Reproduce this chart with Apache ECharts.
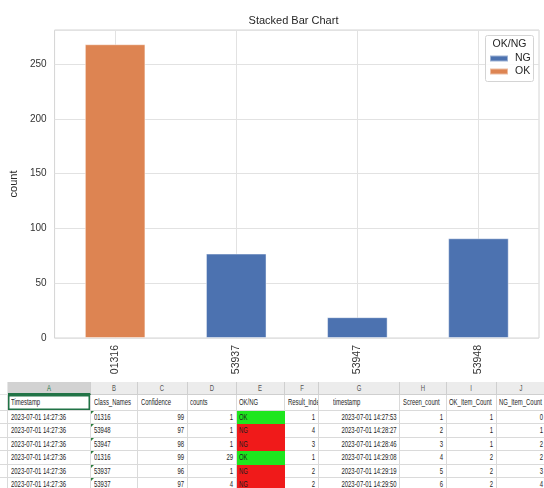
<!DOCTYPE html>
<html>
<head>
<meta charset="utf-8">
<script src="https://cdn.jsdelivr.net/npm/echarts@6/dist/echarts.min.js"></script>
<style>
html,body{margin:0;padding:0;background:#fff;}
#wrap{position:relative;width:544px;height:488px;overflow:hidden;background:#fff;}
#chart{position:absolute;left:0;top:0;width:544px;height:488px;}
#sheet{position:absolute;left:0;top:381px;width:544px;height:107px;overflow:hidden;background:#fff;font-family:'Liberation Sans',Arial,sans-serif;font-size:9px;color:#1e1e1e;}
.c{position:absolute;box-sizing:border-box;border-right:1px solid #dadada;border-bottom:1px solid #dadada;overflow:hidden;}
.t{position:absolute;top:0;white-space:nowrap;}
.tri{position:absolute;left:0;top:0;width:0;height:0;border-top:3px solid #2a7d3c;border-right:3px solid transparent;}
</style>
</head>
<body>
<div id="wrap">
  <div id="chart"></div>
  <div id="sheet"></div>
</div>
<script>
// ---------- chart data ----------
const categories = ['01316', '53937', '53947', '53948'];
const ngValues = [null, 77, 19, 91];
const okValues = [268, null, null, null];
const seriesNames = ['NG', 'OK'];
const yMax = 281;
const yInterval = 50;

// ---------- spreadsheet data ----------
const colLetters = ['A', 'B', 'C', 'D', 'E', 'F', 'G', 'H', 'I', 'J'];
const headerRow = ['Timestamp', 'Class_Names', 'Confidence', 'counts', 'OK/NG', 'Result_Index', 'timestamp', 'Screen_count', 'OK_Item_Count', 'NG_Item_Count'];
const colTimestamp = ['2023-07-01 14:27:36', '2023-07-01 14:27:36', '2023-07-01 14:27:36', '2023-07-01 14:27:36', '2023-07-01 14:27:36', '2023-07-01 14:27:36'];
const colClassNames = ['01316', '53948', '53947', '01316', '53937', '53937'];
const colConfidence = ['99', '97', '98', '99', '96', '97'];
const colCounts = ['1', '1', '1', '29', '1', '4'];
const colOkNg = ['OK', 'NG', 'NG', 'OK', 'NG', 'NG'];
const colResultIndex = ['1', '4', '3', '1', '2', '2'];
const colTimestamp2 = ['2023-07-01 14:27:53', '2023-07-01 14:28:27', '2023-07-01 14:28:46', '2023-07-01 14:29:08', '2023-07-01 14:29:19', '2023-07-01 14:29:50'];
const colScreenCount = ['1', '2', '3', '4', '5', '6'];
const colOkItem = ['1', '1', '1', '2', '2', '2'];
const colNgItem = ['0', '1', '2', '2', '3', '4'];

// ---------- chart ----------
const chart = echarts.init(document.getElementById('chart'), null, {renderer: 'canvas'});
const FONT = 'Liberation Sans, Arial, sans-serif';
const option = {
  animation: false,
  textStyle: {fontFamily: FONT},
  grid: {left: 48, right: 5, top: 30, bottom: 150, show: true, borderColor: '#d4d4d4', borderWidth: 1},
  graphic: [
    {type: 'text', x: 293.5, y: 21, z: 5,
     style: {text: 'Stacked Bar Chart', fontSize: 11, fill: '#262626', fontFamily: FONT, textAlign: 'center', textVerticalAlign: 'middle'}},
    {type: 'rect', z: 10, shape: {x: 485.5, y: 35.5, width: 48, height: 46, r: 2},
     style: {fill: 'rgba(255,255,255,0.85)', stroke: '#d4d4d4', lineWidth: 1}},
    {type: 'text', x: 509.5, y: 44.5, z: 21,
     style: {text: 'OK/NG', fontSize: 10.5, fill: '#262626', fontFamily: FONT, textAlign: 'center', textVerticalAlign: 'middle'}}
  ],
  legend: {
    orient: 'vertical', left: 489, top: 53, z: 20, padding: 0,
    itemWidth: 18, itemHeight: 6, itemGap: 2, icon: 'rect',
    textStyle: {fontSize: 10.5, color: '#262626', fontFamily: FONT, padding: [0, 0, 0, 2]},
    data: seriesNames
  },
  xAxis: {
    type: 'category', data: categories,
    name: 'Class_Names', nameLocation: 'middle', nameGap: 44,
    nameTextStyle: {fontSize: 11, color: '#262626'},
    axisLine: {show: false},
    axisTick: {show: false, alignWithLabel: true},
    axisLabel: {rotate: 90, fontSize: 10.5, color: '#333', margin: 7},
    splitLine: {show: true, alignWithLabel: true, lineStyle: {color: '#e2e2e2', width: 1}}
  },
  yAxis: {
    type: 'value', min: 0, max: yMax, interval: yInterval,
    name: 'count', nameLocation: 'middle', nameGap: 33, nameRotate: 90,
    nameTextStyle: {fontSize: 11, color: '#262626'},
    axisLine: {show: false}, axisTick: {show: false},
    axisLabel: {fontSize: 10, color: '#333', margin: 8, showMaxLabel: false},
    splitLine: {show: true, lineStyle: {color: '#e2e2e2', width: 1}}
  },
  series: [
    {name: seriesNames[0], type: 'bar', stack: 'total', barWidth: '50%', data: ngValues,
     itemStyle: {color: '#4c72b0', borderColor: 'rgba(255,255,255,0.45)', borderWidth: 1}},
    {name: seriesNames[1], type: 'bar', stack: 'total', barWidth: '50%', data: okValues,
     itemStyle: {color: '#dd8452', borderColor: 'rgba(255,255,255,0.45)', borderWidth: 1}}
  ]
};
chart.setOption(option);

// ---------- spreadsheet ----------
const sheet = document.getElementById('sheet');
const SX = 0.66;
const colX = [0, 8, 91, 138, 187.5, 236.5, 285, 319, 400, 446.5, 496.5, 547];
const align = ['l', 'l', 'r', 'r', 'l', 'r', 'r', 'r', 'r', 'r'];
const headPad = [2.5, 2.5, 2.5, 2.5, 2.5, 2.5, 14, 2.5, 2.5, 2.5];
const letterTop = 1, letterH = 13, headTop = 14, headH = 15.5, rowTop = 29.5, rowH = 13.5;
const columns = [colTimestamp, colClassNames, colConfidence, colCounts, colOkNg, colResultIndex, colTimestamp2, colScreenCount, colOkItem, colNgItem];

function cell(x, y, w, h, text, al, extra) {
  extra = extra || {};
  const d = document.createElement('div');
  d.className = 'c';
  d.style.left = x + 'px'; d.style.top = y + 'px';
  d.style.width = w + 'px'; d.style.height = h + 'px';
  if (extra.bg) { d.style.background = extra.bg; }
  if (extra.border) { d.style.borderRight = '1px solid ' + extra.border; d.style.borderBottom = '1px solid ' + extra.border; }
  if (text !== null && text !== undefined) {
    const s = document.createElement('span');
    s.className = 't';
    s.textContent = text;
    s.style.lineHeight = h + 'px';
    const pad = extra.pad !== undefined ? extra.pad : 2.5;
    if (extra.color) s.style.color = extra.color;
    if (al === 'l') { s.style.left = pad + 'px'; s.style.transformOrigin = '0 50%'; s.style.transform = 'scaleX(' + SX + ')'; }
    else if (al === 'r') { s.style.right = pad + 'px'; s.style.transformOrigin = '100% 50%'; s.style.transform = 'scaleX(' + SX + ')'; }
    else { s.style.left = '50%'; s.style.transformOrigin = '0 50%'; s.style.transform = 'scaleX(' + SX + ') translateX(-50%)'; }
    d.appendChild(s);
  }
  if (extra.tri) { const tr = document.createElement('div'); tr.className = 'tri'; d.appendChild(tr); }
  if (extra.sel) { d.style.boxShadow = 'inset 0 0 0 1.5px #217346'; }
  if (extra.underline) { d.style.borderBottom = '2px solid #217346'; }
  sheet.appendChild(d);
  return d;
}

// stub column
cell(colX[0], letterTop, colX[1] - colX[0], letterH, null, 'l', {bg: '#fff', border: '#e6e6e6'});
cell(colX[0], headTop, colX[1] - colX[0], headH, null, 'l', {bg: '#fff'});
for (let r = 0; r < 6; r++) cell(colX[0], rowTop + r * rowH, colX[1] - colX[0], rowH, null, 'l', {bg: '#fff'});

// column letters
colLetters.forEach((L, i) => {
  const sel = i === 0;
  cell(colX[i + 1], letterTop, colX[i + 2] - colX[i + 1], letterH, L, 'c',
    {bg: sel ? '#d2d2d2' : '#ececec', border: '#cfcfcf', color: sel ? '#217346' : '#555', underline: sel});
});
// header row
headerRow.forEach((h, i) => {
  cell(colX[i + 1], headTop, colX[i + 2] - colX[i + 1], headH, h, 'l', {sel: i === 0, pad: headPad[i]});
});
// data rows
for (let r = 0; r < 6; r++) {
  columns.forEach((col, i) => {
    const x = colX[i + 1], w = colX[i + 2] - colX[i + 1];
    const y = rowTop + r * rowH;
    if (i === 4) {
      const fill = col[r] === 'OK' ? '#1ee61e' : '#f01a1a';
      cell(x, y, w, rowH, col[r], 'l', {bg: fill, border: fill});
    } else {
      cell(x, y, w, rowH, col[r], align[i], {tri: i === 1});
    }
  });
}
</script>
</body>
</html>
